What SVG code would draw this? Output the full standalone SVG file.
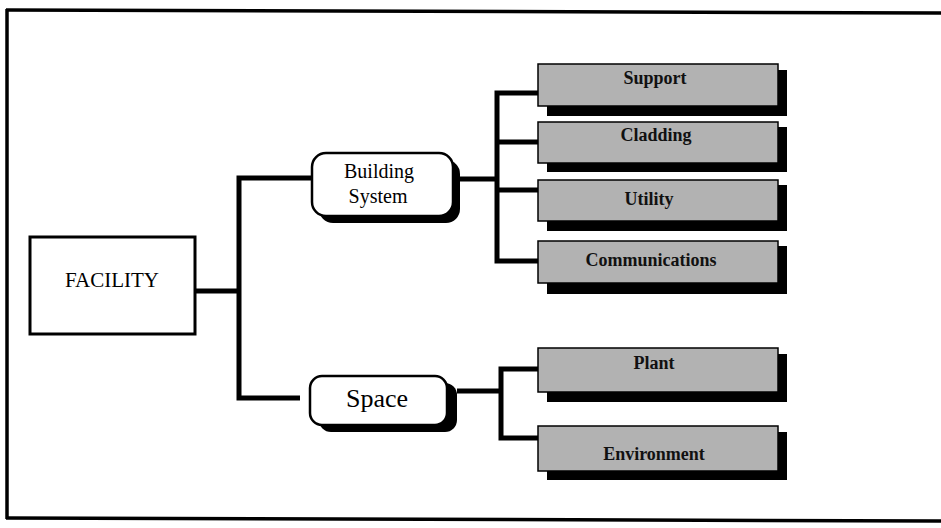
<svg xmlns="http://www.w3.org/2000/svg" width="941" height="528" viewBox="0 0 941 528">
<style>
.frame{fill:none;stroke:#000;stroke-width:3.5}
.conn{fill:none;stroke:#000;stroke-width:5;stroke-linejoin:miter;stroke-linecap:butt}
.box{fill:#fff;stroke:#000;stroke-width:3}
.rbox{fill:#fff;stroke:#000;stroke-width:2.5}
.shadow{fill:#000}
.gbox{fill:#b2b2b2;stroke:#000;stroke-width:1.5}
.lbl{font-family:"Liberation Serif","Times New Roman",serif;fill:#000;text-anchor:middle}
.glbl{font-family:"Liberation Serif","Times New Roman",serif;font-weight:bold;font-size:18px;fill:#111;text-anchor:middle}
</style>
<rect width="941" height="528" fill="#fff"/>
<path class="frame" d="M6,10 L941,13"/>
<path class="frame" d="M7,9 L7,519"/>
<path class="frame" d="M6,518 L941,521"/>

<g id="connectors">
  <path class="conn" d="M195,291 H239"/>
  <path class="conn" d="M312,178 H239 V398 H300"/>
  <path class="conn" d="M460,179 H497"/>
  <path class="conn" d="M538,93 H497 V261 H538"/>
  <path class="conn" d="M497,142 H538"/>
  <path class="conn" d="M497,190 H538"/>
  <path class="conn" d="M457,391 H501"/>
  <path class="conn" d="M538,369 H501 V438 H538"/>
</g>

<g id="facility">
  <rect class="box" x="30" y="237" width="165" height="97"/>
  <text class="lbl" x="112" y="287" font-size="21">FACILITY</text>
</g>

<g id="building-system">
  <rect class="shadow" x="319" y="160" width="141" height="63" rx="14"/>
  <rect class="rbox" x="312" y="153" width="141" height="63" rx="14"/>
  <text class="lbl" x="379" y="178" font-size="20">Building</text>
  <text class="lbl" x="378" y="203" font-size="20">System</text>
</g>

<g id="space">
  <rect class="shadow" x="319" y="383" width="138" height="49" rx="12"/>
  <rect class="rbox" x="310" y="376" width="137" height="49" rx="12"/>
  <text class="lbl" x="377" y="407" font-size="26">Space</text>
</g>

<g id="support">
  <rect class="shadow" x="547" y="70" width="240" height="46"/>
  <rect class="gbox" x="538" y="64" width="240" height="42"/>
  <text class="glbl" x="655" y="84">Support</text>
</g>
<g id="cladding">
  <rect class="shadow" x="547" y="127" width="240" height="45"/>
  <rect class="gbox" x="538" y="122" width="240" height="41"/>
  <text class="glbl" x="656" y="141">Cladding</text>
</g>
<g id="utility">
  <rect class="shadow" x="547" y="185" width="240" height="46"/>
  <rect class="gbox" x="538" y="180" width="240" height="41"/>
  <text class="glbl" x="649" y="205">Utility</text>
</g>
<g id="communications">
  <rect class="shadow" x="547" y="246" width="240" height="48"/>
  <rect class="gbox" x="538" y="241" width="240" height="42"/>
  <text class="glbl" x="651" y="266">Communications</text>
</g>
<g id="plant">
  <rect class="shadow" x="547" y="354" width="240" height="48"/>
  <rect class="gbox" x="538" y="348" width="240" height="44"/>
  <text class="glbl" x="654" y="369">Plant</text>
</g>
<g id="environment">
  <rect class="shadow" x="547" y="432" width="240" height="48"/>
  <rect class="gbox" x="538" y="426" width="240" height="45"/>
  <text class="glbl" x="654" y="460">Environment</text>
</g>
</svg>
